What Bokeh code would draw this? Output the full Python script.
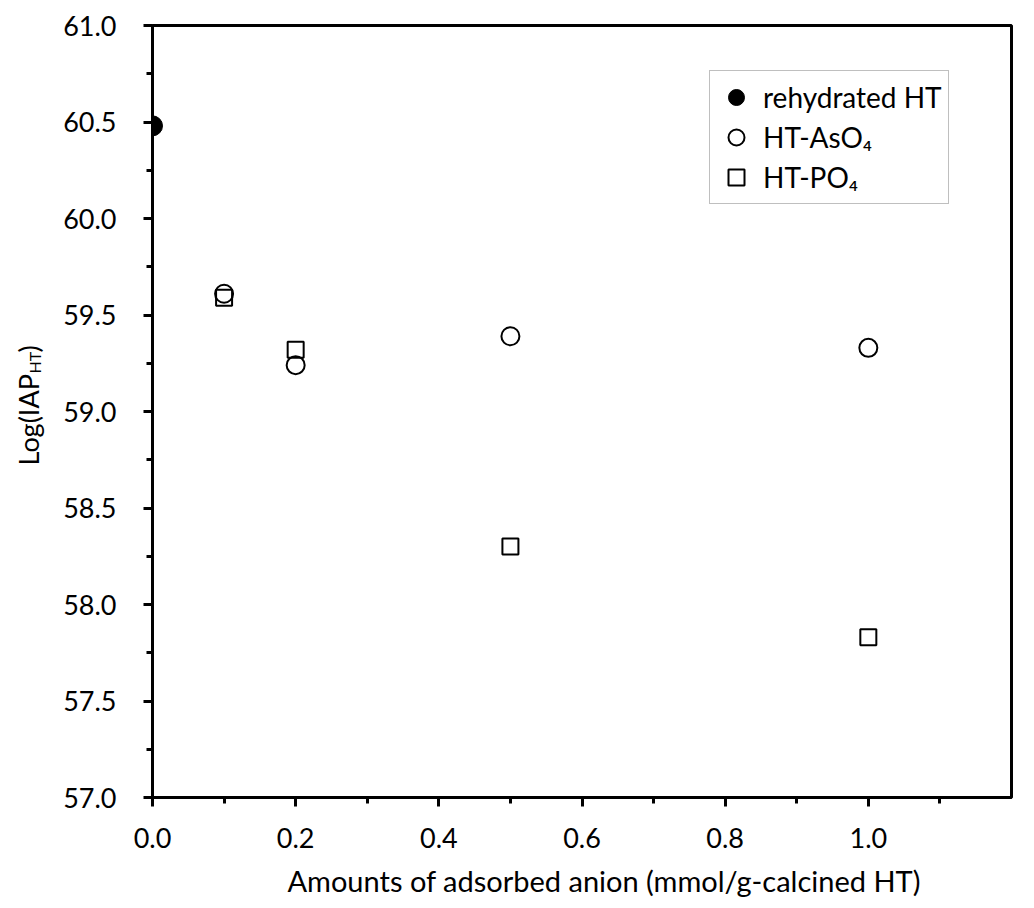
import math
from bokeh.plotting import figure
from bokeh.layouts import row
from bokeh.models import (Range1d, SingleIntervalTicker, PrintfTickFormatter,
                          Legend, LegendItem, Title)
from bokeh.core.properties import value
from bokeh.embed import file_html
from bokeh.resources import INLINE

# ---- data ----
rehy_x = [0.0]
rehy_y = [60.48]
aso4_x = [0.1, 0.2, 0.5, 1.0]
aso4_y = [59.61, 59.24, 59.39, 59.33]
po4_x = [0.1, 0.2, 0.5, 1.0]
po4_y = [59.59, 59.32, 58.30, 57.83]

series_names = ["rehydrated HT", "HT-AsO\u2084", "HT-PO\u2084"]
x_label = "Amounts of adsorbed anion (mmol/g-calcined HT)"
y_label_parts = ["Log(IAP", "HT", ")"]

FONT = "Lato"
LABEL_W = 60
TOTAL_W, TOTAL_H = 1034, 908
TOP, BOTTOM = 25, 111

# ---- main plot ----
p = figure(width=TOTAL_W - LABEL_W, height=TOTAL_H, output_backend="svg",
           toolbar_location=None,
           x_range=Range1d(0, 1.2), y_range=Range1d(57, 61),
           min_border_left=90, min_border_right=23, min_border_top=TOP,
           min_border_bottom=BOTTOM)
p.grid.visible = False
p.outline_line_color = "black"
p.outline_line_width = 3
p.background_fill_color = "white"
p.border_fill_color = "white"

p.xaxis.ticker = SingleIntervalTicker(interval=0.2, num_minor_ticks=2)
p.yaxis.ticker = SingleIntervalTicker(interval=0.5, num_minor_ticks=2)
for ax in (p.xaxis, p.yaxis):
    ax.formatter = PrintfTickFormatter(format="%.1f")
    ax.axis_line_width = 3
    ax.axis_line_color = "black"
    ax.major_tick_line_width = 3
    ax.minor_tick_line_width = 3
    ax.major_tick_in = 0
    ax.major_tick_out = 9
    ax.minor_tick_in = 0
    ax.minor_tick_out = 6
    ax.major_label_text_font = FONT
    ax.major_label_text_font_size = "27px"
    ax.major_label_text_color = "black"
p.yaxis.major_label_standoff = 27
p.xaxis.major_label_standoff = 21

# x-axis title (shifted right as in the original)
xt = Title(text=x_label, align="left", offset=135, standoff=20,
           text_font=FONT, text_font_size="29px", text_font_style="normal",
           text_color="black")
p.add_layout(xt, "below")

r1 = p.scatter(rehy_x, rehy_y, marker="circle", size=20,
               fill_color="black", line_color="black", line_width=1)
r3 = p.scatter(po4_x, po4_y, marker="square", size=16,
               fill_color=None, line_color="black", line_width=2)
r2 = p.scatter(aso4_x, aso4_y, marker="circle", size=18,
               fill_color=None, line_color="black", line_width=2)

legend = Legend(items=[LegendItem(label=series_names[0], renderers=[r1]),
                       LegendItem(label=series_names[1], renderers=[r2]),
                       LegendItem(label=series_names[2], renderers=[r3])],
                location=(557, 593), margin=0, padding=6, spacing=0,
                glyph_width=40, glyph_height=40, label_standoff=7,
                label_text_font=FONT, label_text_font_size="28px",
                label_text_color="black",
                border_line_color="#808080", border_line_width=1.5,
                background_fill_color="white", background_fill_alpha=1.0)
p.add_layout(legend)

# ---- y-axis title panel (with subscript) ----
lab = figure(width=LABEL_W, height=TOTAL_H, output_backend="svg",
             toolbar_location=None, x_axis_type=None, y_axis_type=None,
             x_range=Range1d(0, LABEL_W),
             y_range=Range1d(TOTAL_H - BOTTOM, TOP),
             min_border_left=0, min_border_right=0,
             min_border_top=TOP, min_border_bottom=BOTTOM)
lab.grid.visible = False
lab.outline_line_color = None
lab.background_fill_color = "white"
lab.border_fill_color = "white"

lab.text(x=[28], y=[465], text=[y_label_parts[0]], angle=math.pi / 2,
         text_align="left", text_baseline="alphabetic",
         text_font=value(FONT), text_font_size="27px", text_color="black")
lab.text(x=[34], y=[373], text=[y_label_parts[1]], angle=math.pi / 2,
         text_align="left", text_baseline="alphabetic",
         text_font=value(FONT), text_font_size="16px", text_color="black")
lab.text(x=[28], y=[352], text=[y_label_parts[2]], angle=math.pi / 2,
         text_align="left", text_baseline="alphabetic",
         text_font=value(FONT), text_font_size="27px", text_color="black")

layout = row(lab, p)
open("out.html", "w").write(file_html(layout, INLINE))
